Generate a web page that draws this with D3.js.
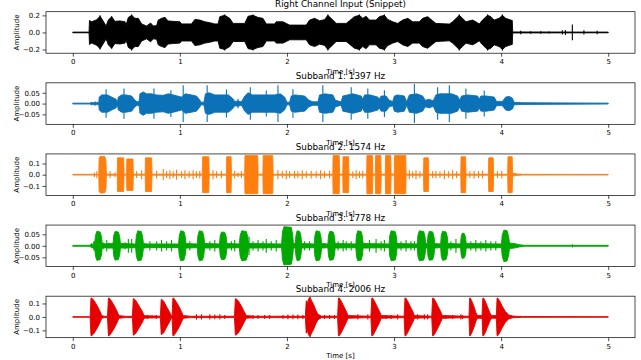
<!DOCTYPE html>
<html><head><meta charset="utf-8">
<script src="https://cdn.jsdelivr.net/npm/d3@7"></script>
<style>body{margin:0;background:#fff}svg{display:block}text{font-family:"DejaVu Sans",sans-serif}</style>
</head><body><svg id="c" width="641" height="360"></svg>
<script>
// ---- data (envelopes: [time s, amplitude]) ----
const titles = ["Right Channel Input (Snippet)","Subband 1: 1397 Hz","Subband 2: 1574 Hz","Subband 3: 1778 Hz","Subband 4: 2006 Hz"];
const xTicks = [0,1,2,3,4,5];
const yTicks = [[-0.2,0,0.2],[-0.05,0,0.05],[-0.1,0,0.1],[-0.05,0,0.05],[-0.1,0,0.1]];
const yLimits = [0.243,0.096,0.185,0.090,0.154];
const tickDecimals = [1,2,1,2,1];

const rightEnv = [[0,0.004],[0.152,0.004],[0.156,0.14],[0.177,0.125],[0.224,0.15],[0.255,0.19],[0.286,0.13],[0.311,0.075],[0.332,0.145],[0.363,0.185],[0.394,0.13],[0.441,0.135],[0.488,0.125],[0.497,0.085],[0.519,0.176],[0.55,0.2],[0.581,0.165],[0.612,0.165],[0.643,0.1],[0.689,0.075],[0.727,0.11],[0.752,0.075],[0.783,0.08],[0.798,0.145],[0.829,0.165],[0.86,0.176],[0.891,0.135],[0.938,0.13],[1.0,0.125],[1.016,0.1],[1.109,0.1],[1.14,0.153],[1.186,0.145],[1.233,0.125],[1.28,0.114],[1.326,0.1],[1.357,0.1],[1.373,0.185],[1.419,0.2],[1.466,0.165],[1.497,0.106],[1.606,0.106],[1.637,0.19],[1.683,0.2],[1.73,0.176],[1.776,0.165],[1.807,0.1],[1.885,0.1],[1.9,0.125],[1.963,0.125],[1.994,0.106],[2.025,0.086],[2.18,0.086],[2.211,0.145],[2.258,0.165],[2.304,0.137],[2.35,0.15],[2.382,0.2],[2.429,0.145],[2.46,0.106],[2.553,0.106],[2.584,0.137],[2.63,0.185],[2.677,0.2],[2.708,0.165],[2.739,0.19],[2.77,0.145],[2.832,0.145],[2.863,0.185],[2.91,0.2],[2.941,0.153],[2.988,0.125],[3.034,0.106],[3.081,0.145],[3.128,0.165],[3.174,0.125],[3.236,0.125],[3.267,0.165],[3.314,0.185],[3.36,0.137],[3.391,0.106],[3.516,0.098],[3.547,0.125],[3.609,0.2],[3.64,0.165],[3.671,0.125],[3.733,0.145],[3.764,0.125],[3.795,0.098],[3.826,0.145],[3.873,0.2],[3.904,0.185],[3.935,0.145],[3.981,0.165],[4.012,0.2],[4.043,0.165],[4.09,0.145],[4.104,0.14],[4.108,0.006],[5.0,0.004]];
const rightSpikes = [[0.255,0.2],[0.363,0.19],[0.55,0.21],[0.86,0.18],[1.419,0.21],[1.683,0.21],[2.382,0.21],[2.677,0.21],[2.91,0.21],[3.609,0.21],[3.873,0.21],[4.012,0.21],[4.183,0.02],[4.276,0.015],[4.37,0.015],[4.447,0.012],[4.571,0.025],[4.6,0.03],[4.665,0.092],[4.773,0.025],[4.897,0.02]];

const sub1Env = [[0,0.002],[0.16,0.002],[0.177,0.006],[0.19,0.003],[0.208,0.008],[0.22,0.004],[0.23,0.006],[0.243,0.004],[0.247,0.03],[0.27,0.04],[0.3,0.04],[0.323,0.04],[0.363,0.03],[0.404,0.02],[0.416,0.005],[0.425,0.03],[0.457,0.04],[0.497,0.04],[0.55,0.035],[0.58,0.015],[0.602,0.008],[0.621,0.012],[0.627,0.045],[0.658,0.054],[0.689,0.045],[0.736,0.045],[0.776,0.04],[0.845,0.038],[0.891,0.045],[0.938,0.04],[0.984,0.034],[1.016,0.03],[1.05,0.045],[1.109,0.04],[1.155,0.035],[1.18,0.02],[1.2,0.006],[1.224,0.006],[1.239,0.045],[1.273,0.05],[1.326,0.04],[1.388,0.04],[1.453,0.04],[1.491,0.025],[1.512,0.01],[1.543,0.012],[1.575,0.008],[1.606,0.035],[1.637,0.05],[1.677,0.04],[1.745,0.04],[1.823,0.04],[1.885,0.04],[1.938,0.045],[1.978,0.03],[2.0,0.006],[2.025,0.006],[2.04,0.035],[2.075,0.04],[2.165,0.035],[2.205,0.015],[2.242,0.008],[2.29,0.008],[2.304,0.04],[2.357,0.045],[2.429,0.04],[2.453,0.015],[2.506,0.008],[2.522,0.035],[2.615,0.045],[2.693,0.035],[2.708,0.02],[2.724,0.04],[2.776,0.04],[2.848,0.03],[2.863,0.02],[2.879,0.035],[2.925,0.035],[2.956,0.015],[2.988,0.01],[3.003,0.035],[3.034,0.04],[3.096,0.035],[3.118,0.008],[3.143,0.04],[3.211,0.045],[3.267,0.035],[3.292,0.015],[3.329,0.02],[3.366,0.012],[3.391,0.04],[3.429,0.045],[3.491,0.045],[3.537,0.045],[3.593,0.035],[3.615,0.015],[3.63,0.035],[3.689,0.04],[3.78,0.035],[3.795,0.02],[3.811,0.035],[3.863,0.035],[3.935,0.03],[3.957,0.01],[4.012,0.01],[4.043,0.03],[4.075,0.033],[4.106,0.025],[4.12,0.006],[4.199,0.004],[5.0,0.002]];
const sub1Spikes = [[0.311,0.066],[0.478,0.07],[0.758,0.07],[0.916,0.062],[1.031,0.085],[1.255,0.085],[1.435,0.065],[1.543,0.022],[1.658,0.075],[1.807,0.06],[1.916,0.085],[2.056,0.066],[2.335,0.085],[2.6,0.075],[2.755,0.07],[2.91,0.062],[3.19,0.09],[3.407,0.075],[3.516,0.085],[3.671,0.07],[3.842,0.06]];

const sub2Env = [[0,0.003],[0.243,0.003],[0.246,0.15],[0.26,0.165],[0.3,0.16],[0.31,0.12],[0.314,0.004],[0.415,0.004],[0.418,0.15],[0.475,0.15],[0.479,0.004],[0.502,0.004],[0.505,0.14],[0.562,0.14],[0.566,0.004],[0.676,0.004],[0.679,0.15],[0.736,0.15],[0.74,0.004],[1.21,0.004],[1.213,0.16],[1.27,0.16],[1.274,0.004],[1.434,0.004],[1.437,0.16],[1.478,0.16],[1.482,0.004],[1.605,0.004],[1.608,0.17],[1.727,0.17],[1.731,0.004],[1.775,0.004],[1.778,0.17],[1.867,0.17],[1.871,0.004],[2.428,0.004],[2.431,0.17],[2.488,0.17],[2.492,0.004],[2.521,0.004],[2.524,0.16],[2.575,0.16],[2.579,0.004],[2.744,0.004],[2.747,0.17],[2.798,0.17],[2.802,0.004],[2.825,0.004],[2.828,0.17],[2.876,0.17],[2.88,0.004],[2.918,0.004],[2.921,0.17],[2.969,0.17],[2.973,0.004],[3.002,0.004],[3.005,0.17],[3.109,0.17],[3.113,0.004],[3.275,0.004],[3.278,0.15],[3.32,0.15],[3.324,0.004],[3.623,0.004],[3.626,0.16],[3.668,0.16],[3.672,0.004],[3.881,0.004],[3.884,0.15],[3.926,0.15],[3.93,0.004],[4.061,0.004],[4.064,0.16],[4.103,0.16],[4.107,0.012],[4.15,0.006],[4.2,0.003],[5.0,0.002]];
const sub2Spikes = [[0.202,0.02],[0.224,0.03],[0.348,0.03],[0.394,0.02],[0.596,0.03],[0.643,0.04],[0.783,0.035],[0.845,0.05],[0.876,0.03],[0.907,0.04],[0.938,0.03],[0.969,0.045],[1.016,0.03],[1.047,0.04],[1.087,0.03],[1.124,0.04],[1.155,0.03],[1.186,0.035],[1.31,0.04],[1.342,0.03],[1.388,0.035],[1.512,0.035],[1.543,0.02],[1.575,0.03],[1.916,0.04],[1.957,0.03],[1.994,0.04],[2.025,0.03],[2.071,0.035],[2.102,0.03],[2.143,0.04],[2.18,0.03],[2.227,0.035],[2.273,0.03],[2.314,0.04],[2.351,0.03],[2.398,0.035],[2.615,0.03],[2.646,0.04],[2.677,0.03],[2.708,0.035],[3.143,0.04],[3.174,0.03],[3.205,0.04],[3.242,0.03],[3.36,0.03],[3.391,0.035],[3.429,0.03],[3.47,0.04],[3.51,0.03],[3.547,0.04],[3.584,0.03],[3.708,0.03],[3.748,0.035],[3.789,0.03],[3.826,0.035],[3.966,0.03],[4.006,0.035]];

const sub3Env = [[0,0.002],[0.16,0.002],[0.177,0.01],[0.19,0.005],[0.199,0.02],[0.205,0.01],[0.212,0.045],[0.225,0.063],[0.255,0.06],[0.268,0.04],[0.275,0.01],[0.29,0.012],[0.3,0.008],[0.33,0.01],[0.36,0.01],[0.376,0.01],[0.383,0.045],[0.395,0.062],[0.425,0.06],[0.438,0.04],[0.445,0.01],[0.47,0.01],[0.58,0.008],[0.587,0.01],[0.594,0.045],[0.607,0.065],[0.64,0.062],[0.652,0.04],[0.66,0.01],[0.7,0.008],[0.98,0.008],[0.988,0.01],[0.995,0.045],[1.008,0.065],[1.038,0.062],[1.05,0.04],[1.057,0.01],[1.16,0.008],[1.162,0.01],[1.169,0.045],[1.182,0.065],[1.212,0.062],[1.224,0.04],[1.231,0.01],[1.37,0.008],[1.377,0.045],[1.39,0.06],[1.42,0.058],[1.432,0.04],[1.439,0.01],[1.555,0.008],[1.563,0.045],[1.578,0.065],[1.62,0.062],[1.634,0.04],[1.641,0.01],[1.95,0.008],[1.958,0.06],[1.972,0.083],[2.04,0.08],[2.053,0.05],[2.06,0.01],[2.078,0.01],[2.084,0.045],[2.095,0.065],[2.12,0.062],[2.131,0.04],[2.137,0.01],[2.255,0.008],[2.261,0.045],[2.273,0.065],[2.305,0.062],[2.317,0.04],[2.323,0.01],[2.382,0.008],[2.388,0.045],[2.4,0.063],[2.432,0.06],[2.444,0.04],[2.45,0.01],[2.643,0.008],[2.649,0.045],[2.661,0.065],[2.693,0.062],[2.705,0.04],[2.711,0.01],[2.954,0.008],[2.96,0.045],[2.973,0.065],[3.01,0.062],[3.022,0.04],[3.028,0.01],[3.217,0.008],[3.223,0.045],[3.236,0.065],[3.277,0.062],[3.289,0.04],[3.296,0.01],[3.311,0.01],[3.317,0.045],[3.329,0.063],[3.361,0.06],[3.373,0.04],[3.379,0.01],[3.435,0.008],[3.441,0.045],[3.453,0.063],[3.485,0.06],[3.497,0.04],[3.503,0.01],[3.621,0.008],[3.627,0.04],[3.637,0.055],[3.658,0.052],[3.668,0.035],[3.674,0.01],[4.003,0.008],[4.01,0.045],[4.025,0.068],[4.055,0.066],[4.07,0.04],[4.078,0.012],[4.12,0.01],[4.168,0.005],[4.22,0.002],[5.0,0.002]];
const sub3Spikes = [[0.317,0.025],[0.488,0.015],[0.519,0.03],[0.55,0.03],[0.72,0.02],[0.783,0.02],[0.829,0.025],[0.876,0.02],[0.922,0.025],[1.093,0.02],[1.28,0.02],[1.326,0.025],[1.481,0.02],[1.512,0.025],[1.646,0.04],[1.683,0.02],[1.73,0.025],[1.776,0.02],[1.807,0.03],[1.854,0.02],[1.9,0.025],[2.165,0.02],[2.211,0.02],[2.478,0.02],[2.525,0.025],[2.553,0.02],[2.6,0.02],[2.77,0.025],[2.832,0.03],[2.879,0.02],[2.91,0.025],[3.065,0.02],[3.112,0.025],[3.158,0.02],[3.19,0.02],[3.531,0.02],[3.578,0.03],[3.717,0.02],[3.764,0.025],[3.811,0.02],[3.857,0.025],[3.904,0.02],[3.95,0.02],[4.665,0.007]];

const sub4Env = [[0,0.002],[0.158,0.002],[0.162,0.005],[0.17,0.14],[0.177,0.14],[0.2,0.12],[0.23,0.08],[0.255,0.04],[0.27,0.01],[0.3,0.004],[0.324,0.005],[0.333,0.14],[0.34,0.14],[0.36,0.12],[0.39,0.08],[0.415,0.04],[0.43,0.01],[0.5,0.004],[0.557,0.005],[0.565,0.135],[0.572,0.135],[0.59,0.12],[0.62,0.08],[0.65,0.04],[0.665,0.01],[0.7,0.008],[0.8,0.006],[0.818,0.005],[0.826,0.13],[0.833,0.13],[0.85,0.115],[0.88,0.07],[0.905,0.035],[0.918,0.01],[0.927,0.005],[0.935,0.14],[0.942,0.14],[0.96,0.12],[0.99,0.08],[1.015,0.04],[1.03,0.01],[1.1,0.005],[1.51,0.005],[1.518,0.135],[1.525,0.135],[1.545,0.12],[1.575,0.08],[1.6,0.04],[1.62,0.01],[1.7,0.005],[2.172,0.005],[2.18,0.12],[2.19,0.1],[2.2,0.13],[2.215,0.148],[2.23,0.12],[2.25,0.09],[2.27,0.05],[2.29,0.02],[2.32,0.006],[2.473,0.005],[2.481,0.14],[2.488,0.14],[2.505,0.12],[2.53,0.08],[2.555,0.04],[2.57,0.01],[2.784,0.005],[2.792,0.14],[2.8,0.14],[2.815,0.12],[2.84,0.08],[2.865,0.04],[2.88,0.01],[3.094,0.005],[3.102,0.14],[3.11,0.14],[3.125,0.12],[3.15,0.08],[3.175,0.04],[3.19,0.01],[3.352,0.005],[3.36,0.14],[3.367,0.14],[3.385,0.12],[3.41,0.08],[3.435,0.04],[3.45,0.01],[3.7,0.005],[3.706,0.14],[3.712,0.14],[3.725,0.12],[3.745,0.08],[3.765,0.03],[3.78,0.01],[3.822,0.01],[3.829,0.14],[3.835,0.14],[3.85,0.12],[3.87,0.08],[3.895,0.03],[3.91,0.01],[3.955,0.01],[3.962,0.14],[3.968,0.14],[3.985,0.12],[4.01,0.08],[4.04,0.04],[4.07,0.015],[4.11,0.006],[4.2,0.003],[5.0,0.002]];
const sub4Spikes = [[0.7,0.015],[0.74,0.01],[0.78,0.015],[1.155,0.02],[1.202,0.02],[1.28,0.02],[1.326,0.018],[1.373,0.02],[1.419,0.015],[1.683,0.015],[1.73,0.015],[1.792,0.015],[1.839,0.015],[1.963,0.015],[2.009,0.018],[2.056,0.018],[2.102,0.018],[2.149,0.015],[2.304,0.015],[2.351,0.015],[2.398,0.015],[2.444,0.015],[2.662,0.02],[2.755,0.02],[2.925,0.015],[2.972,0.015],[3.034,0.02],[3.22,0.02],[3.283,0.02],[3.314,0.02],[3.484,0.015],[3.547,0.015],[3.624,0.02],[3.64,0.015]];

// ---- drawing ----
const envs = [rightEnv, sub1Env, sub2Env, sub3Env, sub4Env];
const spikes = [rightSpikes, sub1Spikes, sub2Spikes, sub3Spikes, sub4Spikes];
const colors = ["#000000","#0b72b8","#ff7f0e","#00a800","#e60000"];

const svg = d3.select("#c");
const L = 46, R = 635, top0 = 11.7, step = 71.12, h = 41.5, cx = (L + R) / 2;
const x = d3.scaleLinear().domain([-0.25, 5.25]).range([L, R]);

envs.forEach((env, i) => {
  const t = top0 + i * step;
  const y = d3.scaleLinear().domain([-yLimits[i], yLimits[i]]).range([t + h, t]);
  const g = svg.append("g");
  g.append("clipPath").attr("id", "clip" + i).append("rect")
    .attr("x", L).attr("y", t).attr("width", R - L).attr("height", h);
  const plot = g.append("g").attr("clip-path", `url(#clip${i})`);
  const area = d3.area().x(d => x(d[0])).y0(d => y(-d[1])).y1(d => y(d[1]));
  plot.append("path").datum(env).attr("d", area)
    .attr("fill", colors[i]).attr("stroke", colors[i]).attr("stroke-width", 0.9).attr("stroke-linejoin", "round");
  plot.selectAll("line.sp").data(spikes[i]).join("line").attr("class", "sp")
    .attr("x1", d => x(d[0])).attr("x2", d => x(d[0]))
    .attr("y1", d => y(-d[1])).attr("y2", d => y(d[1]))
    .attr("stroke", colors[i]).attr("stroke-width", 1.1);

  g.append("rect").attr("x", L).attr("y", t).attr("width", R - L).attr("height", h)
    .attr("fill", "none").attr("stroke", "#000").attr("stroke-width", 0.7);

  const xa = d3.axisBottom(x).tickValues(xTicks).tickSize(3.5).tickPadding(2.5).tickFormat(d3.format("d"));
  const gx = g.append("g").attr("transform", `translate(0,${t + h})`).call(xa);
  gx.select(".domain").remove();
  gx.selectAll("text").attr("font-size", 7).attr("font-family", "DejaVu Sans");
  gx.selectAll("line").attr("stroke-width", 0.7);

  const ya = d3.axisLeft(y).tickValues(yTicks[i]).tickSize(3.5).tickPadding(2.5)
    .tickFormat(d3.format("." + tickDecimals[i] + "f"));
  const gy = g.append("g").attr("transform", `translate(${L},0)`).call(ya);
  gy.select(".domain").remove();
  gy.selectAll("text").attr("font-size", 7).attr("font-family", "DejaVu Sans");
  gy.selectAll("line").attr("stroke-width", 0.7);

  g.append("text").attr("x", cx).attr("y", t - 4.3).attr("text-anchor", "middle")
    .attr("font-size", 8.8).attr("fill", "#000").text(titles[i]);
  g.append("text").attr("x", cx).attr("y", t + h + 20.3).attr("text-anchor", "middle")
    .attr("font-size", 7).attr("fill", "#000").text("Time [s]");
  g.append("text").attr("transform", `translate(19.2,${t + h / 2}) rotate(-90)`).attr("text-anchor", "middle")
    .attr("font-size", 7).attr("fill", "#000").text("Amplitude");
});
</script></body></html>
